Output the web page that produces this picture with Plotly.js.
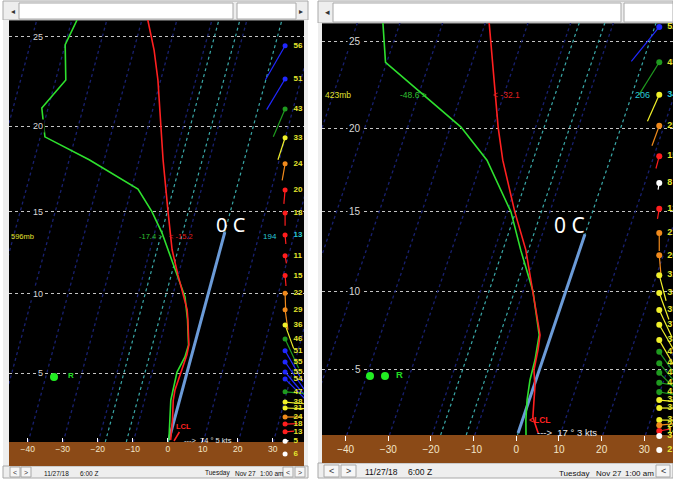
<!DOCTYPE html>
<html><head><meta charset="utf-8">
<script src="https://cdn.plot.ly/plotly-3.0.1.min.js"></script>
<style>html,body{margin:0;padding:0;background:#fff;}#chart{width:673px;height:479px;}</style>
</head><body><div id="chart"></div>
<script>
// ---------------- data ----------------
const heightLabels = ['5','10','15','20','25'];          // thousands of feet
const heightLevelMb = [843, 697, 572, 466, 376];         // pressure of each height line
const tempTicks = [-40,-30,-20,-10,0,10,20,30];
const isothermsC = [-120,-110,-100,-90,-80,-70,-60,-50,-40,-30,-20,-10,0,10,20,30,40];
const dgzIsothermsC = [-18,-12,0];

// left sounding
const leftTempMb = [361,388,417,467,505,572,627,666,697,724,742,788,807,841,878,900,944,990];
const leftTempC  = [-38.3,-34.2,-30.8,-26.3,-23.2,-17.8,-13.7,-10.1,-7.2,-4.8,-3.8,-1.6,-1.4,-1.8,-2.1,-1.8,-0.5,0.5];
const leftDewMb  = [361,383,417,446,478,505,542,572,602,643,686,702,742,788,811,841,900,944,990];
const leftDewC   = [-58.5,-60.0,-57.1,-61.8,-58.7,-44.3,-28.1,-22.4,-17.9,-13.0,-8.0,-6.4,-3.9,-1.7,-1.8,-2.9,-2.5,-1.2,0.0];
const leftZeroMb = [990, 601];
const leftWindMb  = [384,416,447,479,510,543,574,605,636,667,696,724,751,777,799,821,841,855,882,904,917,937,953,971,993,1024];
const leftWindKt  = [56,51,43,33,24,20,18,13,11,15,22,29,36,46,51,55,55,54,47,38,31,24,18,13,5,6];
const leftWindDir = [210,211,203,198,190,185,180,175,170,175,178,172,160,155,150,145,140,135,95,95,92,90,88,86,80,74];

// right sounding
const rightTempMb = [359.5,464.5,504,572.5,629,696,747,775,804,845,881,949,987];
const rightTempC  = [-39.1,-28.8,-25.1,-18.2,-12.6,-7.7,-4.25,-2.6,-1.9,-1.25,0.3,2.2,4.7];
const rightDewMb  = [359.5,396,464.5,504,572.5,629,696,747,775,824.5,866,910,956,991.5];
const rightDewC   = [-64.0,-60.3,-37.5,-28.8,-19.1,-13.8,-7.7,-4.5,-2.8,-1.8,-1.4,-0.5,0.8,2.0];
const rightZeroMb = [987, 605];
const rightWindMb  = [363,396,429,463,499,533,568,603,637,669,699,729,756,785,808,831,851,872,892,910,928,956,968,982,994,1029];
const rightWindKt  = [52,45,34,25,15,8,12,21,26,31,33,35,37,38,41,43,44,44,42,38,35,32,24,14,3,2];
const rightWindDir = [219,212,204,200,195,190,190,180,175,165,160,155,150,150,145,140,135,100,100,95,90,90,85,80,17,17];

// ---------------- helpers ----------------
const W = 673, H = 479;
const PX = x => x / W, PY = y => 1 - y / H;
const SKEW = 32, P0 = 1000;
const skewX = (t, p) => t + SKEW * Math.log(P0 / p);
function speedColor(s){
  if (s < 10) return '#ffffff';
  if (s <= 20) return '#ff1e1e';
  if (s < 30) return '#f08a1c';
  if (s < 40) return '#f0f02a';
  if (s < 50) return '#1f9a1f';
  return '#2028ff';
}

const panels = [
  {xa:'x', ya:'y', xg:'x3', yg:'y3', tempMb:leftTempMb, tempC:leftTempC, dewMb:leftDewMb, dewC:leftDewC, zeroMb:leftZeroMb,
   windMb:leftWindMb, windKt:leftWindKt, windDir:leftWindDir, readout:7, pBot:995,
   pxPerC:3.502, pxPerLog:958, fs:8, dot:5, labelOff:8.5},
  {xa:'x2', ya:'y2', xg:'x4', yg:'y4', tempMb:rightTempMb, tempC:rightTempC, dewMb:rightDewMb, dewC:rightDewC, zeroMb:rightZeroMb,
   windMb:rightWindMb, windKt:rightWindKt, windDir:rightWindDir, readout:2, pBot:991.7,
   pxPerC:4.267, pxPerLog:935, fs:9, dot:6, labelOff:8}
];
const WIND_X = 33.5;

const traces = [];
panels.forEach(P => {
  const base = {type:'scatter', xaxis:P.xa, yaxis:P.ya, hoverinfo:'skip'};
  // dark blue isotherms
  const ix = [], iy = [];
  isothermsC.forEach(t => { if (dgzIsothermsC.includes(t)) return;
    ix.push(skewX(t,P.pBot), skewX(t,300), null); iy.push(P.pBot,300,null); });
  traces.push(Object.assign({}, base, {mode:'lines', x:ix, y:iy, line:{color:'#18206f', width:1.3, dash:'dot'}}));
  // cyan isotherms
  const cx = [], cy = [];
  dgzIsothermsC.forEach(t => { cx.push(skewX(t,P.pBot), skewX(t,300), null); cy.push(P.pBot,300,null); });
  traces.push(Object.assign({}, base, {mode:'lines', x:cx, y:cy, line:{color:'#3aa8a8', width:1.2, dash:'dot'}}));
  // thick 0 C line
  traces.push(Object.assign({}, base, {mode:'lines', x:P.zeroMb.map(p => skewX(0,p)), y:P.zeroMb,
    line:{color:'#6b9bd8', width:3}}));
  // dewpoint and temperature
  traces.push(Object.assign({}, base, {mode:'lines', x:P.dewC.map((t,i)=>skewX(t,P.dewMb[i])), y:P.dewMb,
    line:{color:'#2ee02e', width:1.6}}));
  traces.push(Object.assign({}, base, {mode:'lines', x:P.tempC.map((t,i)=>skewX(t,P.tempMb[i])), y:P.tempMb,
    line:{color:'#ff2020', width:1.6}}));
  // wind sticks grouped by colour
  const ratio = P.pxPerC / P.pxPerLog;
  const groups = {};
  P.windMb.forEach((p,i) => {
    const c = speedColor(P.windKt[i]);
    const L = 0.2 * P.windKt[i];
    const a = P.windDir[i] * Math.PI / 180;
    const x1 = WIND_X + L * Math.sin(a);
    const p1 = Math.pow(10, Math.log10(p) - L * Math.cos(a) * ratio);
    (groups[c] = groups[c] || {x:[], y:[]});
    groups[c].x.push(WIND_X, x1, null); groups[c].y.push(p, p1, null);
  });
  Object.keys(groups).forEach(c => traces.push(Object.assign({}, base, {mode:'lines', x:groups[c].x, y:groups[c].y,
    line:{color:c, width:1.2}})));
  // wind dots and labels: levels above ground on the sounding subplot, below it on the ground strip
  const idxAir = [], idxGround = [];
  P.windMb.forEach((p,i) => (p <= P.pBot ? idxAir : idxGround).push(i));
  [[P.xa,P.ya,idxAir],[P.xg,P.yg,idxGround]].forEach(ax => {
    const idx = ax[2];
    traces.push({type:'scatter', hoverinfo:'skip', xaxis:ax[0], yaxis:ax[1], mode:'markers',
      x:idx.map(()=>WIND_X), y:idx.map(i=>P.windMb[i]), cliponaxis:false,
      marker:{size:P.dot, color:idx.map(i=>speedColor(P.windKt[i]))}});
    traces.push({type:'scatter', hoverinfo:'skip', xaxis:ax[0], yaxis:ax[1], mode:'text',
      x:idx.map(()=>WIND_X + P.labelOff / P.pxPerC), y:idx.map(i=>P.windMb[i]),
      text:idx.map(i=>String(P.windKt[i])), textposition:'middle right', cliponaxis:false,
      textfont:{family:'Liberation Sans, Arial, sans-serif', size:P.fs, weight:'bold',
        color:idx.map(i=> i===P.readout ? '#29c8d8' : '#e6e62e')}});
  });
});

// ---------------- layout ----------------
const chromeFill = '#eeeeee', chromeLine = '#a8a8a8';
const shapes = [];
function rect(x0,y0,x1,y1,fill,line,layer){ shapes.push({type:'rect', xref:'paper', yref:'paper',
  x0:PX(x0), x1:PX(x1), y0:PY(y1), y1:PY(y0), fillcolor:fill, line:{color:line||fill, width:line?1:0}, layer:layer||'below'}); }
// left panel chrome
rect(3,1,308,20,chromeFill,chromeLine);
rect(3,20,9,466,chromeFill);
rect(304,20,308,466,chromeFill);
rect(3,466,308,478,chromeFill,chromeLine);
rect(19,3,233,19,'#ffffff',chromeLine);
rect(237,3,296,19,'#ffffff',chromeLine);
rect(9,442,304,466,'#8b4a17');
rect(10,467,20,477,'#f6f6f6',chromeLine); rect(21,467,31,477,'#f6f6f6',chromeLine);
rect(283,467,293,477,'#f6f6f6',chromeLine); rect(295,467,305,477,'#f6f6f6',chromeLine);
// right panel chrome
rect(318,1,673,23,chromeFill,chromeLine);
rect(318,23,322,463,chromeFill);
rect(318,463,673,478,chromeFill,chromeLine);
rect(333,3,621,22,'#ffffff',chromeLine);
rect(624,3,673,22,'#ffffff',chromeLine);
rect(322,435,673,463,'#8b4a17');
rect(324,465,339,477,'#f6f6f6',chromeLine); rect(341,465,356,477,'#f6f6f6',chromeLine);
rect(656,465,670,477,'#f6f6f6',chromeLine);
// precipitation indicator dots
[[54,377],[370,376],[385,376]].forEach(c => shapes.push({type:'circle', xref:'paper', yref:'paper',
  x0:PX(c[0]-4), x1:PX(c[0]+4), y0:PY(c[1]+4), y1:PY(c[1]-4), fillcolor:'#22ee22', line:{width:0}, layer:'above'}));

const ann = [];
function txt(x,y,t,size,color,opts){ ann.push(Object.assign({xref:'paper', yref:'paper', x:PX(x), y:PY(y), text:t,
  showarrow:false, xanchor:'center', yanchor:'middle',
  font:{family:'Liberation Sans, Arial, sans-serif', size:size, color:color}}, opts||{})); }
// height labels
heightLevelMb.forEach((p,i) => {
  ann.push({xref:'paper', yref:'y', x:PX(45), y:Math.log10(p), text:heightLabels[i], showarrow:false, xanchor:'right',
    yanchor:'middle', bgcolor:'#000000', borderpad:1, font:{family:'Liberation Sans, Arial, sans-serif', size:9, color:'#d8d8d8'}});
  ann.push({xref:'paper', yref:'y2', x:PX(363), y:Math.log10(p), text:heightLabels[i], showarrow:false, xanchor:'right',
    yanchor:'middle', bgcolor:'#000000', borderpad:1, font:{family:'Liberation Sans, Arial, sans-serif', size:10, color:'#d8d8d8'}});
});
// readouts
txt(9,236,'596mb',7.5,'#e0e030',{xanchor:'left'});
txt(151,236,'-17.4 >',7.5,'#30c030');
txt(181,236,'< -15.2',7.5,'#e02020');
txt(279,236,'194',8,'#29c8d8',{xanchor:'right'});
txt(323,95,'423mb',8.5,'#e0e030',{xanchor:'left'});
txt(413,95,'-48.6 >',8.5,'#30c030');
txt(506,95,'< -32.1',8.5,'#e02020');
txt(652,95,'206',9,'#29c8d8',{xanchor:'right'});
// 0 C labels
ann.push({xref:'paper', yref:'paper', x:PX(231), y:PY(224), text:'0 C', showarrow:false, font:{family:'Noto Sans', size:20, color:'#ffffff'}});
ann.push({xref:'paper', yref:'paper', x:PX(587), y:PY(225), text:'0 C', showarrow:false, font:{family:'Noto Sans', size:21, color:'#ffffff'}});
// precip type
txt(71,375,'<b>R</b>',8,'#22dd22');
txt(399,374,'<b>R</b>',9.5,'#22dd22');
// LCL
ann.push({xref:'paper', yref:'paper', x:PX(174), y:PY(441), ax:9, ay:-15, text:'<b>LCL</b>', showarrow:true, arrowhead:0,
  arrowwidth:1.5, arrowcolor:'#ff2020', font:{family:'Liberation Sans, Arial, sans-serif', size:7.5, color:'#ff2020'}});
txt(540,420,'<b>&lt;LCL</b>',8.5,'#ff2020');
// surface wind
txt(182,440,'---&gt;  74 ° 5 kts',7.5,'#e8e8e8',{xanchor:'left'});
txt(535,432,'---&gt;  17 ° 3 kts',9.5,'#e8e8e8',{xanchor:'left'});
// chrome texts
txt(13,11,'◂',8,'#333'); txt(301,11,'▸',8,'#333'); txt(327,12,'◂',9,'#333');
txt(15,472,'&lt;',7,'#333'); txt(26,472,'&gt;',7,'#333'); txt(288,472,'&lt;',7,'#333'); txt(300,472,'&gt;',7,'#333');
txt(42,473,'11/27/18',6.5,'#111',{xanchor:'left'}); txt(78,473,'6:00 Z',6.5,'#111',{xanchor:'left'});
txt(203,473,'Tuesday',6.5,'#111',{xanchor:'left'}); txt(233,473,'Nov 27',6.5,'#111',{xanchor:'left'});
txt(258,473,'1:00 am',6.5,'#111',{xanchor:'left'});
txt(331,471,'&lt;',9,'#333'); txt(348,471,'&gt;',9,'#333'); txt(663,471,'&lt;',9,'#333');
txt(363,472,'11/27/18',8.5,'#111',{xanchor:'left'}); txt(406,472,'6:00 Z',8.5,'#111',{xanchor:'left'});
txt(557,473,'Tuesday',8,'#111',{xanchor:'left'}); txt(594,473,'Nov 27',8,'#111',{xanchor:'left'});
txt(623,473,'1:00 am',8,'#111',{xanchor:'left'});

const xBase = {tickvals:tempTicks, showgrid:false, zeroline:false, showline:false, fixedrange:true, tickcolor:'#ffffff'};
const yBase = {type:'log', tickvals:heightLevelMb, showticklabels:false, ticks:'', showgrid:true, gridcolor:'#c4c4c4',
  griddash:'dot', gridwidth:1, zeroline:false, showline:false, fixedrange:true};
const hidden = {visible:false, fixedrange:true};

const layout = {
  width:W, height:H, margin:{l:0,r:0,t:0,b:0}, showlegend:false,
  paper_bgcolor:'#ffffff', plot_bgcolor:'#000000',
  xaxis: Object.assign({}, xBase, {domain:[PX(9),PX(304)], range:[-45.33,38.9], anchor:'y', ticks:'inside', ticklen:4,
    tickfont:{family:'Liberation Sans, Arial, sans-serif', size:8.5, color:'#f3e6c8'}}),
  yaxis: Object.assign({}, yBase, {domain:[PY(442),PY(20)], range:[Math.log10(995),Math.log10(361)], anchor:'x'}),
  xaxis2: Object.assign({}, xBase, {domain:[PX(322),1], range:[-45.54,36.72], anchor:'y2', ticks:'outside', ticklen:5,
    tickfont:{family:'Liberation Sans, Arial, sans-serif', size:10, color:'#f3e6c8'}}),
  yaxis2: Object.assign({}, yBase, {domain:[PY(435),PY(23)], range:[Math.log10(991.7),Math.log10(359.5)], anchor:'x2'}),
  // ground strips below each sounding (surface wind plotted there)
  xaxis3: Object.assign({}, hidden, {domain:[PX(9),PX(304)], range:[-45.33,38.9], anchor:'y3'}),
  yaxis3: Object.assign({}, hidden, {type:'log', domain:[PY(466),PY(442)], range:[Math.log10(1054),Math.log10(995)], anchor:'x3'}),
  xaxis4: Object.assign({}, hidden, {domain:[PX(322),1], range:[-45.54,36.72], anchor:'y4'}),
  yaxis4: Object.assign({}, hidden, {type:'log', domain:[PY(463),PY(435)], range:[Math.log10(1062.4),Math.log10(991.7)], anchor:'x4'}),
  shapes: shapes, annotations: ann
};
Plotly.newPlot('chart', traces, layout, {staticPlot:true, displayModeBar:false});
</script></body></html>
